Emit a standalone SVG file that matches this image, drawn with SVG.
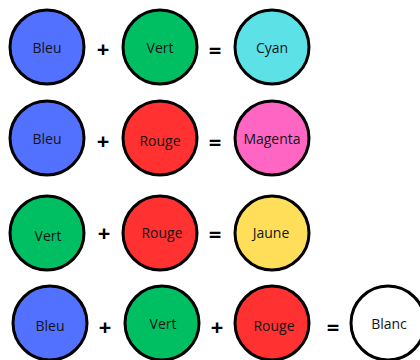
<svg xmlns="http://www.w3.org/2000/svg" width="420" height="360" viewBox="0 0 420 360">
  <style>
    .disc { stroke: #000; stroke-width: 3; }
    .label { font-family: "Open Sans", "Noto Sans", sans-serif; font-size: 14px; fill: #141414; text-anchor: middle; dominant-baseline: central; }
    .op { font-family: "Open Sans", "Noto Sans", sans-serif; font-size: 22px; font-weight: bold; fill: #000; text-anchor: middle; dominant-baseline: central; }
    .blue { fill: #5271FF; }
    .green { fill: #00BF63; }
    .red { fill: #FF3131; }
    .cyan { fill: #5CE1E6; }
    .magenta { fill: #FF66C4; }
    .yellow { fill: #FFDE59; }
    .white { fill: #FFFFFF; }
  </style>
  <rect width="420" height="360" fill="#FFFFFF"/>

  <!-- Bleu + Vert = Cyan -->
  <g id="row1-bleu"><circle class="disc blue" cx="47" cy="47" r="37"/><text class="label" x="47" y="47">Bleu</text></g>
  <g id="row1-vert"><circle class="disc green" cx="160" cy="47" r="37"/><text class="label" x="160" y="47">Vert</text></g>
  <g id="row1-cyan"><circle class="disc cyan" cx="272" cy="47" r="37"/><text class="label" x="272" y="47">Cyan</text></g>

  <!-- Bleu + Rouge = Magenta -->
  <g id="row2-bleu"><circle class="disc blue" cx="47" cy="138" r="37"/><text class="label" x="47" y="138">Bleu</text></g>
  <g id="row2-rouge"><circle class="disc red" cx="160" cy="138" r="37"/><text class="label" x="160" y="140">Rouge</text></g>
  <g id="row2-magenta"><circle class="disc magenta" cx="272" cy="138" r="37"/><text class="label" x="272" y="138">Magenta</text></g>

  <!-- Vert + Rouge = Jaune -->
  <g id="row3-vert"><circle class="disc green" cx="47" cy="233" r="37"/><text class="label" x="48" y="235">Vert</text></g>
  <g id="row3-rouge"><circle class="disc red" cx="160" cy="233" r="37"/><text class="label" x="162" y="232">Rouge</text></g>
  <g id="row3-jaune"><circle class="disc yellow" cx="272" cy="233" r="37"/><text class="label" x="271" y="232">Jaune</text></g>

  <!-- Bleu + Vert + Rouge = Blanc -->
  <g id="row4-bleu"><circle class="disc blue" cx="50" cy="323" r="37"/><text class="label" x="50" y="325">Bleu</text></g>
  <g id="row4-vert"><circle class="disc green" cx="162" cy="323" r="37"/><text class="label" x="163" y="323">Vert</text></g>
  <g id="row4-rouge"><circle class="disc red" cx="272" cy="323" r="37"/><text class="label" x="274" y="325">Rouge</text></g>
  <g id="row4-blanc"><circle class="disc white" cx="388" cy="323" r="37"/><text class="label" x="389" y="323">Blanc</text></g>

  <!-- operators -->
  <g id="operators">
    <text class="op" x="103" y="48">+</text>
    <text class="op" x="215" y="49">=</text>
    <text class="op" x="103" y="140">+</text>
    <text class="op" x="215" y="141">=</text>
    <text class="op" x="104" y="232">+</text>
    <text class="op" x="215" y="233">=</text>
    <text class="op" x="105" y="326">+</text>
    <text class="op" x="217" y="326">+</text>
    <text class="op" x="333" y="326">=</text>
  </g>
</svg>
